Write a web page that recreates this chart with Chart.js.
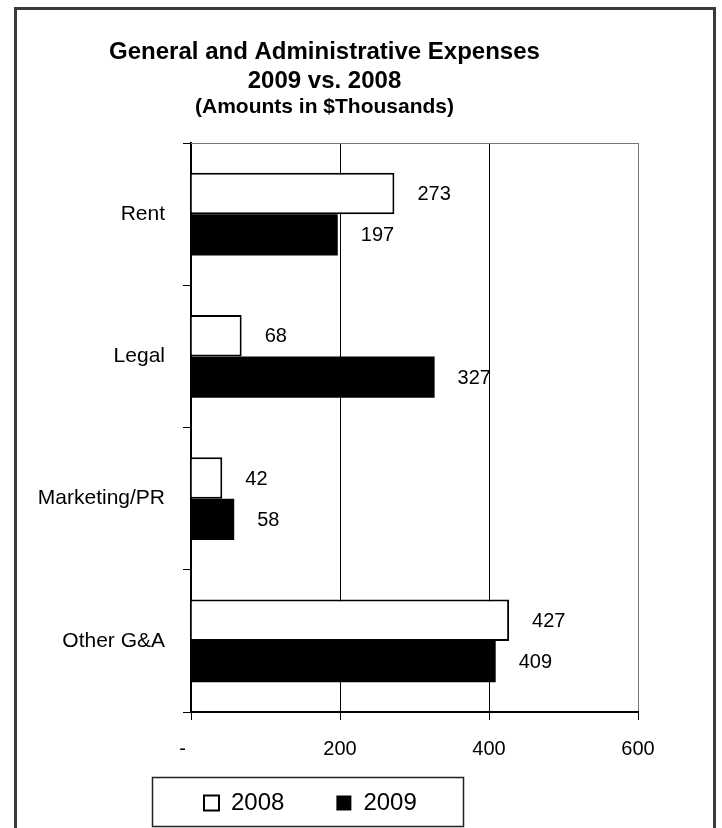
<!DOCTYPE html>
<html>
<head>
<meta charset="utf-8">
<script src="https://cdn.jsdelivr.net/npm/chart.js@4/dist/chart.umd.min.js"></script>
<style>
  html, body { margin: 0; padding: 0; background: #fff; overflow: hidden; }
  #frame { position: absolute; left: 14px; top: 7px; width: 696px; height: 900px; border: 3px solid #3a3a3a; }
  #wrap { position: absolute; left: 0; top: 0; width: 722px; height: 828px; }
</style>
</head>
<body>
<div id="frame"></div>
<div id="wrap"><canvas id="chart"></canvas></div>
<script>
// chart data
const categories = ['Rent', 'Legal', 'Marketing/PR', 'Other G&A'];
const values2008 = [273, 68, 42, 427];
const values2009 = [197, 327, 58, 409];
const seriesNames = ['2008', '2009'];
const titleLines = ['General and Administrative Expenses', '2009 vs. 2008', '(Amounts in $Thousands)'];
const xMax = 600;
const xStep = 200;

const FONT = "'Liberation Sans', Arial, sans-serif";

// title lines, drawn centred over the left part of the frame like the original
const titlePlugin = {
    id: 'titleLines',
    afterDraw(chart) {
        const ctx = chart.ctx;
        const specs = [
            { size: 24, y: 59 },
            { size: 24, y: 88 },
            { size: 21, y: 113 }
        ];
        ctx.save();
        ctx.fillStyle = '#000';
        ctx.textAlign = 'center';
        ctx.textBaseline = 'alphabetic';
        titleLines.forEach((t, i) => {
            ctx.font = `bold ${specs[i].size}px ${FONT}`;
            ctx.fillText(t, 324.5, specs[i].y);
        });
        ctx.restore();
    }
};

// top edge of the plot area
const plotEdgePlugin = {
    id: 'plotEdge',
    beforeDatasetsDraw(chart) {
        const { ctx, chartArea: a } = chart;
        ctx.save();
        ctx.strokeStyle = '#777';
        ctx.lineWidth = 1;
        ctx.beginPath();
        ctx.moveTo(a.left, a.top + 0.5);
        ctx.lineTo(a.right, a.top + 0.5);
        ctx.stroke();
        ctx.restore();
    }
};

// value labels to the right of each bar
const valueLabelPlugin = {
    id: 'valueLabels',
    afterDatasetsDraw(chart) {
        const ctx = chart.ctx;
        ctx.save();
        ctx.font = `20px ${FONT}`;
        ctx.fillStyle = '#000';
        ctx.textAlign = 'left';
        ctx.textBaseline = 'middle';
        chart.data.datasets.forEach((ds, di) => {
            chart.getDatasetMeta(di).data.forEach((bar, i) => {
                ctx.fillText(String(ds.data[i]), bar.x + 23, bar.y + 1);
            });
        });
        ctx.restore();
    }
};

// move the legend into its boxed spot under the axis and draw the box
const legendBoxPlugin = {
    id: 'legendBox',
    afterLayout(chart) {
        const lg = chart.legend;
        if (!lg) return;
        lg.left = 152;
        lg.right = 722;
        lg.top = 739;
        lg.bottom = 827;
        lg.width = lg.right - lg.left;
        lg.height = lg.bottom - lg.top;
    },
    afterDraw(chart) {
        const ctx = chart.ctx;
        ctx.save();
        ctx.strokeStyle = '#222';
        ctx.lineWidth = 1.5;
        ctx.strokeRect(152.5, 777.5, 311, 49);
        ctx.restore();
    }
};

new Chart(document.getElementById('chart'), {
    type: 'bar',
    data: {
        labels: categories,
        datasets: [
            { label: seriesNames[0], data: values2008, backgroundColor: '#fff', borderColor: '#000', borderWidth: 2 },
            { label: seriesNames[1], data: values2009, backgroundColor: '#000', borderColor: '#000', borderWidth: 0 }
        ]
    },
    options: {
        indexAxis: 'y',
        responsive: true,
        maintainAspectRatio: false,
        animation: false,
        categoryPercentage: 0.58,
        barPercentage: 1.0,
        layout: { padding: { top: 143, right: 84, left: 0, bottom: 0 } },
        plugins: {
            title: { display: false },
            tooltip: { enabled: false },
            legend: {
                position: 'bottom',
                align: 'start',
                maxHeight: 40,
                labels: {
                    color: '#000',
                    font: { family: FONT, size: 24 },
                    boxWidth: 15,
                    boxHeight: 15,
                    padding: 52
                }
            }
        },
        scales: {
            x: {
                min: 0,
                max: xMax,
                ticks: {
                    stepSize: xStep,
                    color: '#000',
                    font: { family: FONT, size: 20 },
                    padding: 17,
                    callback: v => v === 0 ? '-   ' : String(v)
                },
                grid: {
                    color: c => c.tick && c.tick.value === xMax ? '#777' : '#000',
                    tickColor: '#000',
                    tickLength: 8,
                    lineWidth: 1
                },
                border: { color: '#000', width: 2 },
                afterFit: s => { s.height = 828 - 712 - s.chart.legend.height; }
            },
            y: {
                ticks: {
                    color: '#000',
                    font: { family: FONT, size: 21 },
                    padding: 18
                },
                grid: {
                    drawOnChartArea: false,
                    tickColor: '#000',
                    tickLength: 8,
                    lineWidth: 1
                },
                border: { color: '#000', width: 2 },
                afterFit: s => { s.width = 191; }
            }
        }
    },
    plugins: [titlePlugin, plotEdgePlugin, valueLabelPlugin, legendBoxPlugin]
});
</script>
</body>
</html>
